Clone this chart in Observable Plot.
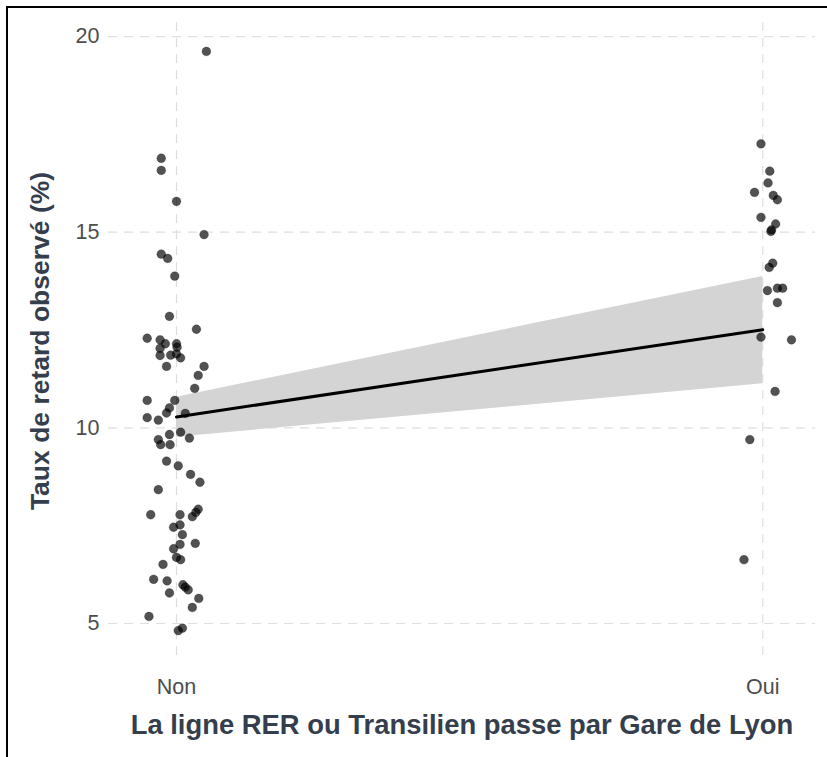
<!DOCTYPE html>
<html>
<head>
<meta charset="utf-8">
<script src="https://cdn.jsdelivr.net/npm/d3@7"></script>
<script src="https://cdn.jsdelivr.net/npm/@observablehq/plot@0.6"></script>
<style>
  html, body { margin: 0; padding: 0; background: #fff; }
  #wrap { position: relative; width: 827px; height: 757px; overflow: hidden; }
  #frame { position: absolute; left: 6px; top: 6px; width: 900px; height: 900px;
           border-left: 2px solid #000; border-top: 2px solid #000; pointer-events: none; }
  #chart { position: absolute; left: 0; top: 0; }
</style>
</head>
<body>
<div id="wrap"><div id="chart"></div><div id="frame"></div></div>
<script>
// Category ticks
const categories = ["Non", "Oui"];
const categoryPos = [0, 1];
const yTicks = [5, 10, 15, 20];
const xTitle = "La ligne RER ou Transilien passe par Gare de Lyon";
const yTitle = "Taux de retard observé (%)";

const nonY = [19.62, 16.89, 16.58, 15.79, 14.94, 14.44, 14.33, 13.88, 12.85, 12.52,
  12.29, 12.25, 12.15, 12.15, 12.06, 12.03, 11.85, 11.86, 11.89, 11.79,
  11.57, 11.57, 11.34, 11.01, 10.70, 10.70, 10.51, 10.38, 10.26, 10.20,
  10.37, 9.89, 9.83, 9.74, 9.70, 9.57, 9.57, 9.15, 9.03, 8.81,
  8.61, 8.42, 7.78, 7.78, 7.92, 7.84, 7.73, 7.52, 7.46, 7.27,
  7.05, 7.02, 6.91, 6.69, 6.63, 6.51, 6.13, 6.09, 5.99, 5.93,
  5.86, 5.78, 5.64, 5.41, 5.18, 4.88, 4.82];
const nonJitter = [0.051, -0.026, -0.026, 0.000, 0.047, -0.026, -0.015, -0.003, -0.012, 0.034,
  -0.050, -0.028, -0.019, 0.000, 0.001, -0.028, -0.028, -0.010, 0.000, 0.007,
  -0.017, 0.047, 0.037, 0.031, -0.050, -0.003, -0.012, -0.017, -0.050, -0.031,
  0.015, 0.007, -0.012, 0.022, -0.031, -0.027, -0.011, -0.017, 0.003, 0.024,
  0.040, -0.031, -0.044, 0.006, 0.037, 0.033, 0.027, 0.006, -0.005, 0.010,
  0.032, 0.006, -0.005, 0.000, 0.007, -0.023, -0.039, -0.016, 0.011, 0.015,
  0.020, -0.012, 0.038, 0.027, -0.047, 0.010, 0.003];

// Group "Oui"
const ouiY = [17.26, 16.56, 16.26, 16.02, 15.94, 15.83, 15.38, 15.21, 15.06, 15.02,
  14.21, 14.10, 13.51, 13.57, 13.57, 13.20, 12.32, 12.25, 10.93, 9.70, 6.63];
const ouiJitter = [-0.003, 0.012, 0.009, -0.014, 0.018, 0.025, -0.003, 0.022, 0.015, 0.014,
  0.017, 0.011, 0.008, 0.025, 0.034, 0.025, -0.003, 0.049, 0.021, -0.022, -0.032];

// Fitted line and confidence band
const fitX = [0, 1];
const fitY = [10.28, 12.51];
const fitLo = [9.76, 11.13];
const fitHi = [10.78, 13.87];

const points = [
  ...nonY.map((v, i) => ({x: categoryPos[0] + nonJitter[i], y: v})),
  ...ouiY.map((v, i) => ({x: categoryPos[1] + ouiJitter[i], y: v}))
];
const fit = fitX.map((x, i) => ({x, y: fitY[i], lo: fitLo[i], hi: fitHi[i]}));

const grid = {stroke: "#dedede", strokeOpacity: 1, strokeWidth: 1.2, strokeDasharray: "9,7"};

const chart = Plot.plot({
  width: 827,
  height: 757,
  marginLeft: 108,
  marginRight: 12,
  marginTop: 22,
  marginBottom: 98,
  style: {fontFamily: "'Liberation Sans', Arial, sans-serif", background: "transparent"},
  x: {domain: [-0.116, 1.09]},
  y: {domain: [4.08, 20.36]},
  marks: [
    Plot.gridY(yTicks, grid),
    Plot.gridX(categoryPos, grid),
    Plot.axisY(yTicks, {tickSize: 0, tickPadding: 9, fontSize: 21.5, color: "#4d4d4d", label: null}),
    Plot.axisX(categoryPos, {tickSize: 0, tickPadding: 19, fontSize: 21.5, color: "#4d4d4d", label: null,
      tickFormat: (d, i) => categories[i]}),
    Plot.areaY(fit, {x: "x", y1: "lo", y2: "hi", fill: "#d4d4d4", fillOpacity: 1}),
    Plot.dot(points, {x: "x", y: "y", r: 4.4, fill: "#000", fillOpacity: 0.68, stroke: "#000", strokeOpacity: 0.3, strokeWidth: 0.8}),
    Plot.line(fit, {x: "x", y: "y", stroke: "#000", strokeWidth: 3}),
    Plot.text([xTitle], {text: d => d, frameAnchor: "bottom", textAnchor: "middle", dy: 74, fontSize: 27.4, fontWeight: "bold", fill: "#353e4d"}),
    Plot.text([yTitle], {text: d => d, frameAnchor: "left", textAnchor: "middle", dx: -68, rotate: -90, fontSize: 26.5, fontWeight: "bold", fill: "#353e4d"})
  ]
});
document.getElementById("chart").appendChild(chart);
</script>
</body>
</html>
